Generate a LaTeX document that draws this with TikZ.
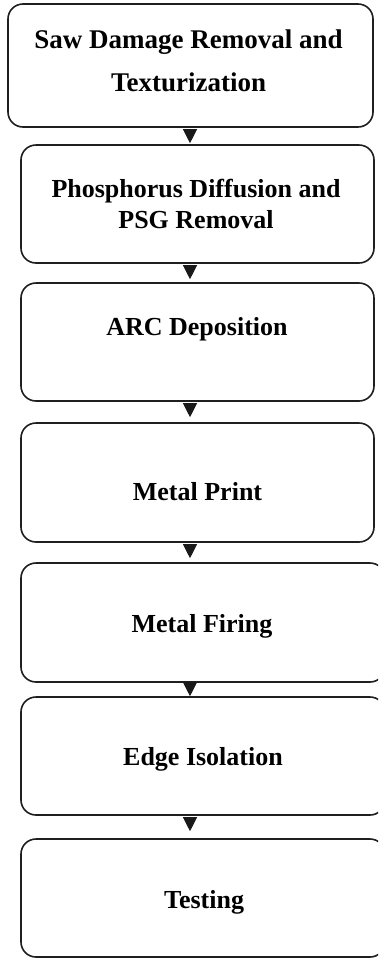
\documentclass[tikz,border=0pt]{standalone}
\usepackage{fontspec}
\setmainfont{Liberation Serif}
\usetikzlibrary{arrows.meta}
\begin{document}
\begin{tikzpicture}[x=1pt,y=-1pt,
  stepbox/.style={draw=black!88, line width=1.6pt, rounded corners=15pt, inner sep=0pt, minimum height=118pt},
  steptext/.style={font=\bfseries\fontsize{26}{32}\selectfont, anchor=base, inner sep=0pt},
  flow/.style={draw=black!90, line width=1pt, shorten <=1pt, -{Triangle[width=14pt,length=14pt]}}]
\useasboundingbox (0,0) rectangle (378,959);
\clip (0,0) rectangle (378,959);

% process steps
\node[stepbox, minimum width=365pt, minimum height=123pt] (b1) at (190.5,65.5) {};
\node[stepbox, minimum width=353pt] (b2) at (197.5,204) {};
\node[stepbox, minimum width=353pt] (b3) at (197.5,342) {};
\node[stepbox, minimum width=353pt, minimum height=119pt] (b4) at (197.5,482.5) {};
\node[stepbox, minimum width=364pt, minimum height=119pt] (b5) at (203,622.5) {};
\node[stepbox, minimum width=364pt] (b6) at (203,756) {};
\node[stepbox, minimum width=364pt] (b7) at (203,898) {};

% labels
\node[steptext, font=\bfseries\fontsize{27}{32}\selectfont] (t1a) at (188.5,48) {Saw Damage Removal and};
\node[steptext, font=\bfseries\fontsize{27}{32}\selectfont] (t1b) at (188.5,91) {Texturization};
\node[steptext] (t2a) at (196,197) {Phosphorus Diffusion and};
\node[steptext] (t2b) at (196,228) {PSG Removal};
\node[steptext] (t3) at (197,335) {ARC Deposition};
\node[steptext] (t4) at (197.5,500) {Metal Print};
\node[steptext] (t5) at (202,632) {Metal Firing};
\node[steptext] (t6) at (203,765) {Edge Isolation};
\node[steptext] (t7) at (204,908) {Testing};

% connectors: the head sits just under each box, clear of the next one
\coordinate (ax) at (190,0);
\draw[flow, shorten >=1pt] (ax |- b1.south) -- (ax |- b2.north);
\draw[flow, shorten >=3pt] (ax |- b2.south) -- (ax |- b3.north);
\draw[flow, shorten >=5pt] (ax |- b3.south) -- (ax |- b4.north);
\draw[flow, shorten >=4pt] (ax |- b4.south) -- (ax |- b5.north);
\draw[flow, shorten >=0pt] (ax |- b5.south) -- (ax |- b6.north);
\draw[flow, shorten >=7pt] (ax |- b6.south) -- (ax |- b7.north);
\end{tikzpicture}
\end{document}
